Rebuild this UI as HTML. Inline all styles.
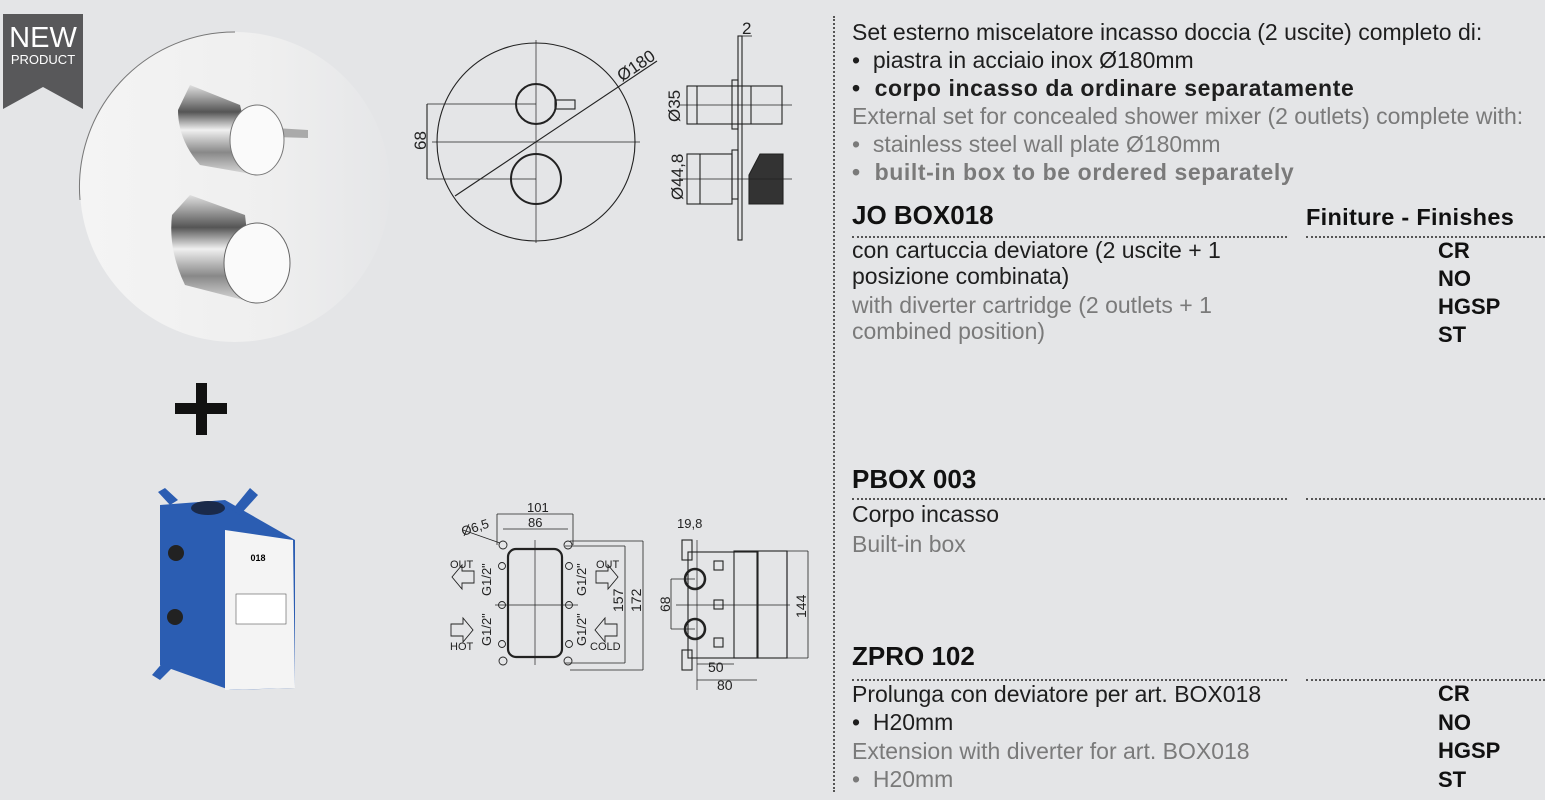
<!DOCTYPE html>
<html><head><meta charset="utf-8"><style>
body{margin:0;width:1545px;height:800px;background:#e4e5e7;position:relative;overflow:hidden;font-family:"Liberation Sans",sans-serif}
.t{position:absolute;left:852px;font-size:23px;line-height:28px;color:#1e1e1e;white-space:nowrap}
.g{color:#7a7a7a}
.b{font-weight:bold;letter-spacing:0.6px}
.h{position:absolute;left:852px;font-size:26px;font-weight:bold;color:#111;white-space:nowrap}
.c{position:absolute;left:1438px;font-size:22px;font-weight:bold;color:#111;line-height:28px}
.dot{position:absolute;border-top:2px dotted #555;height:0}
</style></head><body>
<!-- product photo -->
<svg style="position:absolute;left:0;top:0" width="420" height="700">
<defs><linearGradient id="pg" x1="0" x2="1" y1="0" y2="0"><stop offset="0" stop-color="#f4f4f4"/><stop offset="0.6" stop-color="#efefef"/><stop offset="1" stop-color="#e5e6e8"/></linearGradient>
<linearGradient id="ch" x1="0" x2="0" y1="0" y2="1"><stop offset="0" stop-color="#e0e0e0"/><stop offset="0.3" stop-color="#555"/><stop offset="0.5" stop-color="#f0f0f0"/><stop offset="0.75" stop-color="#888"/><stop offset="1" stop-color="#ddd"/></linearGradient></defs>
<circle cx="235" cy="187" r="155" fill="url(#pg)"/>
<path d="M80,200 A155,155 0 0 1 235,32" fill="none" stroke="#777" stroke-width="1"/>
<path d="M275,128 L308,130 L308,138 L275,137z" fill="#aaa"/>
<path d="M190,85 L240,105 L257,175 L200,165 Q178,140 178,110z" fill="url(#ch)"/>
<ellipse cx="257" cy="140" rx="27" ry="35" fill="#fafafa" stroke="#777"/>
<path d="M190,195 L245,215 L255,303 L185,285 Q168,250 172,215z" fill="url(#ch)"/>
<ellipse cx="257" cy="263" rx="33" ry="40" fill="#fafafa" stroke="#666"/>
<rect x="175" y="403" width="52" height="11" fill="#111"/>
<rect x="196" y="383" width="11" height="52" fill="#111"/>
<!-- box -->
<polygon points="160,505 225,500 295,540 295,688 230,690 160,665" fill="#2b5db2"/>
<polygon points="225,530 293,540 295,688 225,690" fill="#f4f4f4"/>
<ellipse cx="208" cy="508" rx="17" ry="7" fill="#1a2a4a"/>
<polygon points="232,510 250,488 258,495 240,515" fill="#2b5db2"/>
<polygon points="170,505 158,492 165,488 178,500" fill="#2b5db2"/>
<polygon points="165,660 152,675 160,680 172,668" fill="#2b5db2"/>
<circle cx="176" cy="553" r="8" fill="#222"/><circle cx="175" cy="617" r="8" fill="#222"/>
<text x="258" y="561" font-size="9" font-weight="bold" text-anchor="middle">018</text>
<rect x="236" y="594" width="50" height="30" fill="#fff" stroke="#555" stroke-width="0.6"/>
</svg>
<!-- NEW badge -->
<svg style="position:absolute;left:0;top:0" width="90" height="115"><polygon points="3,14 83,14 83,109 43,87 3,109" fill="#58585a"/>
<text x="43" y="47" fill="#fff" font-size="29" text-anchor="middle" font-family="Liberation Sans">NEW</text>
<text x="43" y="64" fill="#fff" font-size="13" text-anchor="middle" font-family="Liberation Sans">PRODUCT</text></svg>
<!-- technical drawings -->
<svg style="position:absolute;left:0;top:0" width="830" height="800" font-family="Liberation Sans" fill="none" stroke="#222" stroke-width="1.1">
<circle cx="536" cy="142" r="99"/>
<line x1="536" y1="40" x2="536" y2="243" stroke-width="0.7"/>
<line x1="432" y1="142" x2="640" y2="142" stroke-width="0.7"/>
<circle cx="536" cy="104" r="20" stroke-width="2"/>
<rect x="555" y="100" width="20" height="9"/>
<circle cx="536" cy="179" r="25" stroke-width="2"/>
<line x1="455" y1="196" x2="657" y2="61"/>
<line x1="427" y1="104" x2="536" y2="104" stroke-width="0.7"/>
<line x1="427" y1="179" x2="536" y2="179" stroke-width="0.7"/>
<line x1="427" y1="104" x2="427" y2="179"/>
<g fill="#222" stroke="none" font-size="17">
<text transform="translate(426,150) rotate(-90)">68</text>
<text transform="translate(622,82) rotate(-34)">Ø180</text>
<text transform="translate(680,122) rotate(-90)">Ø35</text>
<text transform="translate(683,200) rotate(-90)">Ø44,8</text>
<text x="742" y="34">2</text>
</g>
<rect x="738" y="36" width="4" height="204"/>
<line x1="738" y1="36" x2="752" y2="36" stroke-width="0.8"/>
<rect x="732" y="80" width="6" height="49"/>
<rect x="687" y="86" width="95" height="38"/>
<line x1="697" y1="86" x2="697" y2="124"/><line x1="751" y1="86" x2="751" y2="124"/>
<line x1="680" y1="105" x2="792" y2="105" stroke-width="0.7"/>
<rect x="732" y="150" width="6" height="49"/>
<rect x="687" y="154" width="45" height="50"/>
<line x1="700" y1="154" x2="700" y2="204"/>
<polygon points="760,154 783,154 783,204 749,204 749,175" fill="#333"/>
<line x1="680" y1="179" x2="792" y2="179" stroke-width="0.7"/>
<rect x="508" y="549" width="54" height="108" rx="8" stroke-width="2.2"/>
<line x1="535" y1="540" x2="535" y2="665" stroke-width="0.7"/>
<line x1="495" y1="605" x2="578" y2="605" stroke-width="0.7"/>
<g stroke-width="0.9">
<circle cx="503" cy="545" r="4"/><circle cx="568" cy="545" r="4"/><circle cx="503" cy="661" r="4"/><circle cx="568" cy="661" r="4"/>
<circle cx="502" cy="566" r="3.5"/><circle cx="569" cy="566" r="3.5"/><circle cx="502" cy="605" r="3.5"/><circle cx="569" cy="605" r="3.5"/><circle cx="502" cy="644" r="3.5"/><circle cx="569" cy="644" r="3.5"/>
</g>
<line x1="497" y1="514" x2="573" y2="514" stroke-width="0.8"/>
<line x1="497" y1="514" x2="497" y2="545" stroke-width="0.8"/><line x1="573" y1="514" x2="573" y2="545" stroke-width="0.8"/>
<line x1="503" y1="529" x2="568" y2="529" stroke-width="0.8"/>
<line x1="463" y1="530" x2="500" y2="543" stroke-width="0.8"/>
<line x1="565" y1="546" x2="625" y2="546" stroke-width="0.7"/><line x1="565" y1="663" x2="625" y2="663" stroke-width="0.7"/>
<line x1="625" y1="546" x2="625" y2="663" stroke-width="0.8"/>
<line x1="570" y1="541" x2="643" y2="541" stroke-width="0.7"/><line x1="570" y1="670" x2="643" y2="670" stroke-width="0.7"/>
<line x1="643" y1="541" x2="643" y2="670" stroke-width="0.8"/>
<path d="M474 571 h-12 v-6 l-10 12 10 12 v-6 h12z" stroke-width="0.9"/>
<path d="M596 571 h12 v-6 l10 12 -10 12 v-6 h-12z" stroke-width="0.9"/>
<path d="M451 624 h12 v-6 l10 12 -10 12 v-6 h-12z" stroke-width="0.9"/>
<path d="M617 624 h-12 v-6 l-10 12 10 12 v-6 h12z" stroke-width="0.9"/>
<g fill="#222" stroke="none" font-size="13">
<text x="527" y="512">101</text><text x="528" y="527">86</text>
<text transform="translate(463,536) rotate(-18)">Ø6,5</text>
<text x="450" y="568" font-size="11">OUT</text><text x="596" y="568" font-size="11">OUT</text>
<text x="450" y="650" font-size="11">HOT</text><text x="590" y="650" font-size="11">COLD</text>
<text transform="translate(491,596) rotate(-90)">G1/2"</text><text transform="translate(586,596) rotate(-90)">G1/2"</text>
<text transform="translate(491,646) rotate(-90)">G1/2"</text><text transform="translate(586,646) rotate(-90)">G1/2"</text>
<text transform="translate(623,612) rotate(-90)" font-size="14">157</text>
<text transform="translate(641,612) rotate(-90)" font-size="14">172</text>
<text transform="translate(670,612) rotate(-90)" font-size="14">68</text>
<text transform="translate(806,618) rotate(-90)" font-size="14">144</text>
<text x="677" y="528">19,8</text><text x="708" y="672" font-size="14">50</text><text x="717" y="690" font-size="14">80</text>
</g>
<rect x="682" y="540" width="10" height="20"/><rect x="682" y="650" width="10" height="20"/>
<rect x="688" y="552" width="70" height="106"/>
<rect x="734" y="551" width="53" height="107"/>
<line x1="757" y1="551" x2="757" y2="658"/>
<line x1="787" y1="551" x2="787" y2="658"/><line x1="787" y1="551" x2="808" y2="551" stroke-width="0.7"/><line x1="787" y1="658" x2="808" y2="658" stroke-width="0.7"/>
<line x1="808" y1="551" x2="808" y2="658" stroke-width="0.8"/>
<circle cx="695" cy="579" r="10" stroke-width="2.5"/><circle cx="695" cy="629" r="10" stroke-width="2.5"/>
<rect x="714" y="561" width="9" height="9"/><rect x="714" y="600" width="9" height="9"/><rect x="714" y="638" width="9" height="9"/>
<line x1="671" y1="579" x2="695" y2="579" stroke-width="0.7"/><line x1="671" y1="629" x2="695" y2="629" stroke-width="0.7"/><line x1="671" y1="579" x2="671" y2="629" stroke-width="0.8"/>
<line x1="676" y1="605" x2="790" y2="605" stroke-width="0.7"/>
<line x1="697" y1="664" x2="734" y2="664" stroke-width="0.8"/><line x1="697" y1="680" x2="757" y2="680" stroke-width="0.8"/>
<line x1="697" y1="540" x2="697" y2="690" stroke-width="0.7"/>
</svg>
<div style="position:absolute;left:833px;top:16px;height:776px;border-left:2px dotted #555"></div>
<div class="t" style="top:18px">Set esterno miscelatore incasso doccia (2 uscite) completo di:</div>
<div class="t" style="top:46px">•&nbsp; piastra in acciaio inox Ø180mm</div>
<div class="t b" style="top:74px">•&nbsp; corpo incasso da ordinare separatamente</div>
<div class="t g" style="top:102px">External set for concealed shower mixer (2 outlets) complete with:</div>
<div class="t g" style="top:130px">•&nbsp; stainless steel wall plate Ø180mm</div>
<div class="t g b" style="top:158px">•&nbsp; built-in box to be ordered separately</div>
<div class="h" style="top:200px">JO BOX018</div>
<div style="position:absolute;left:1306px;top:204px;font-size:23.5px;font-weight:bold;color:#111;letter-spacing:0.3px">Finiture - Finishes</div>
<div class="dot" style="left:852px;top:236px;width:435px"></div>
<div class="dot" style="left:1306px;top:236px;width:239px"></div>
<div class="t" style="top:237px;line-height:26px">con cartuccia deviatore (2 uscite + 1<br>posizione combinata)</div>
<div class="t g" style="top:292px;line-height:26px">with diverter cartridge (2 outlets + 1<br>combined position)</div>
<div class="c" style="top:237px">CR<br>NO<br>HGSP<br>ST</div>
<div class="h" style="top:464px">PBOX 003</div>
<div class="dot" style="left:852px;top:498px;width:435px"></div>
<div class="dot" style="left:1306px;top:498px;width:239px"></div>
<div class="t" style="top:500px">Corpo incasso</div>
<div class="t g" style="top:530px">Built-in box</div>
<div class="h" style="top:641px">ZPRO 102</div>
<div class="dot" style="left:852px;top:679px;width:435px"></div>
<div class="dot" style="left:1306px;top:679px;width:239px"></div>
<div class="t" style="top:680px">Prolunga con deviatore per art. BOX018</div>
<div class="t" style="top:708px">•&nbsp; H20mm</div>
<div class="t g" style="top:737px">Extension with diverter for art. BOX018</div>
<div class="t g" style="top:765px">•&nbsp; H20mm</div>
<div class="c" style="top:680px;line-height:28.5px">CR<br>NO<br>HGSP<br>ST</div>
</body></html>
